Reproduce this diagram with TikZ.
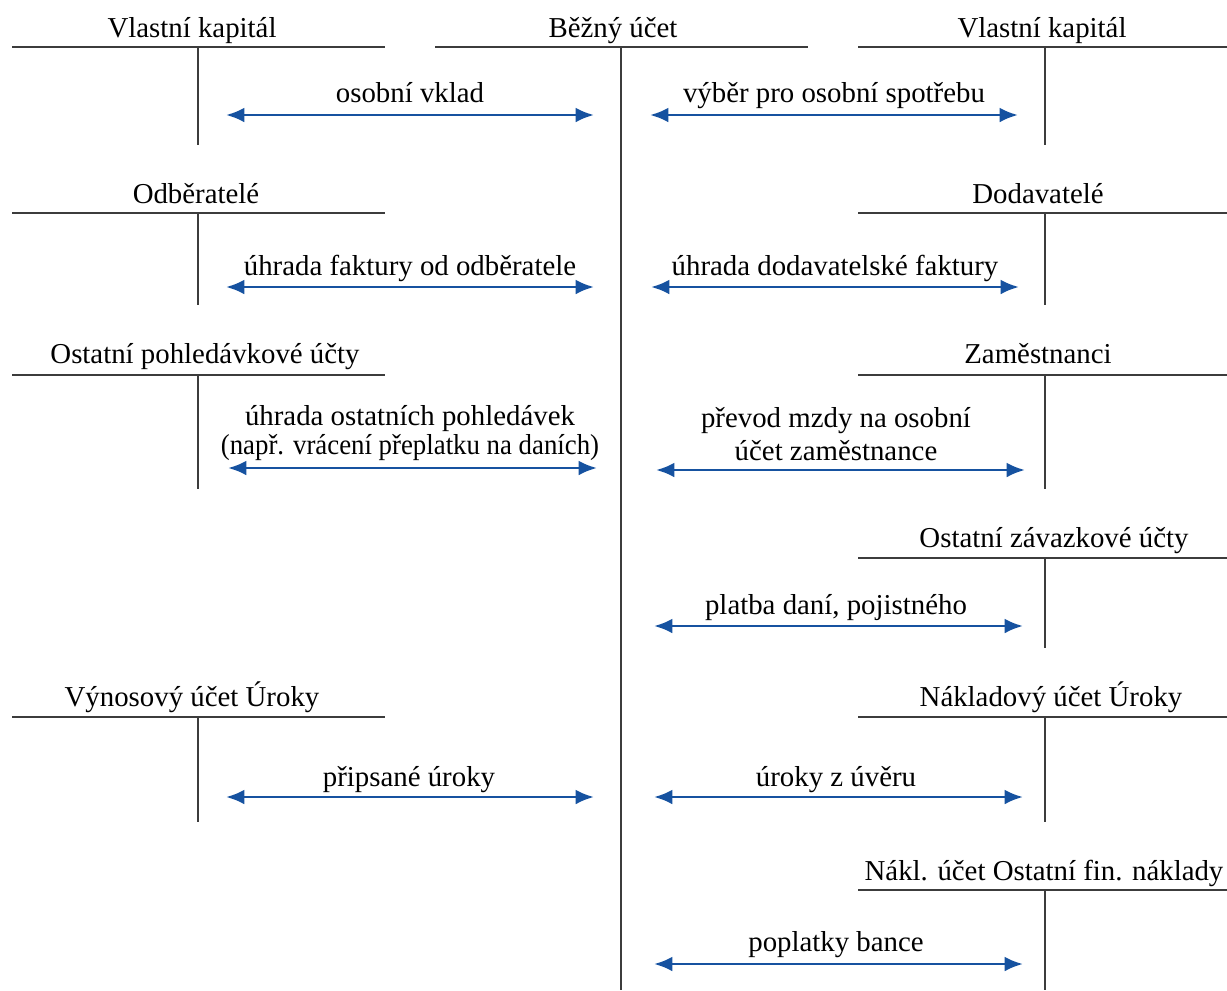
\documentclass[tikz,border=0pt]{standalone}
\usepackage{fontspec}
\setmainfont{Liberation Serif}
\usetikzlibrary{positioning,arrows.meta}
\definecolor{flowblue}{RGB}{22,82,160}
\definecolor{rulegray}{RGB}{60,60,60}
\tikzstyle{acctitle} = [anchor=base, inner sep=0pt, font=\fontsize{8.2}{10}\selectfont]
\tikzstyle{flowtext} = [anchor=base, inner sep=0pt, font=\fontsize{8.2}{10}\selectfont]
\tikzstyle{rule} = [draw=rulegray, line width=0.42pt]
\tikzstyle{flow} = [draw=flowblue, line width=0.8pt, {Latex[length=5.2pt,width=4.2pt]}-{Latex[length=5.2pt,width=4.2pt]}]

\begin{document}
\begin{tikzpicture}[x=0.01cm, y=-0.01cm]
		\useasboundingbox (0,0) rectangle (1227,990);
		% T-accounts
		\node (vkL) [acctitle] at (192,37) {Vlastní kapitál};
		\node (bu) [acctitle] at (613,37) {Běžný účet};
		\node (vkR) [acctitle] at (1042,37) {Vlastní kapitál};
		\draw [rule] (12,47) -- (385,47) (198,47) -- (198,145);
		\draw [rule] (435,47) -- (808,47) (621,47) -- (621,990);
		\draw [rule] (858,47) -- (1227,47) (1045,47) -- (1045,145);
		
		\node (odb) [acctitle] at (196,203) {Odběratelé};
		\node (dod) [acctitle] at (1038,203) {Dodavatelé};
		\draw [rule] (12,213) -- (385,213) (198,213) -- (198,305);
		\draw [rule] (858,213) -- (1227,213) (1045,213) -- (1045,305);
		
		\node (opu) [acctitle] at (205,363) {Ostatní pohledávkové účty};
		\node (zam) [acctitle] at (1038,363) {Zaměstnanci};
		\draw [rule] (12,375) -- (385,375) (198,375) -- (198,489);
		\draw [rule] (858,375) -- (1227,375) (1045,375) -- (1045,489);
		
		\node (ozu) [acctitle] at (1054,547) {Ostatní závazkové účty};
		\draw [rule] (858,558) -- (1227,558) (1045,558) -- (1045,648);
		
		\node (vyn) [acctitle] at (192,706) {Výnosový účet Úroky};
		\node (nak) [acctitle] at (1051,706) {Nákladový účet Úroky};
		\draw [rule] (12,717) -- (385,717) (198,717) -- (198,822);
		\draw [rule] (858,717) -- (1227,717) (1045,717) -- (1045,822);
		
		\node (ofn) [acctitle] at (1044,880) {Nákl. účet Ostatní fin. náklady};
		\draw [rule] (858,890) -- (1227,890) (1045,890) -- (1045,990);
		
		% flows
		\coordinate (vklL) at (226,115);
		\coordinate (vklR) at (594,115);
		\coordinate (vybL) at (650,115);
		\coordinate (vybR) at (1018,115);
		\draw [flow] (vklL) -- (vklR);
		\draw [flow] (vybL) -- (vybR);
		\node (vklT) [flowtext] at (410,102) {osobní vklad};
		\node (vybT) [flowtext] at (834,102) {výběr pro osobní spotřebu};
		
		\coordinate (ufoL) at (226,287);
		\coordinate (ufoR) at (594,287);
		\coordinate (udfL) at (651,287);
		\coordinate (udfR) at (1019,287);
		\draw [flow] (ufoL) -- (ufoR);
		\draw [flow] (udfL) -- (udfR);
		\node (ufoT) [flowtext] at (410,275) {úhrada faktury od odběratele};
		\node (udfT) [flowtext] at (835,275) {úhrada dodavatelské faktury};
		
		\coordinate (uopL) at (228,468);
		\coordinate (uopR) at (597,468);
		\coordinate (pmzL) at (656,470);
		\coordinate (pmzR) at (1025,470);
		\draw [flow] (uopL) -- (uopR);
		\draw [flow] (pmzL) -- (pmzR);
		\node (uopT) [flowtext] at (410,425) {úhrada ostatních pohledávek};
		\node (uopU) [flowtext] at (410,454) {\scalebox{0.93}[1]{(např. vrácení přeplatku na daních)}};
		\node (pmzT) [flowtext] at (836,427) {převod mzdy na osobní};
		\node (pmzU) [flowtext] at (836,460) {účet zaměstnance};
		
		\coordinate (pdpL) at (654,626);
		\coordinate (pdpR) at (1023,626);
		\draw [flow] (pdpL) -- (pdpR);
		\node (pdpT) [flowtext] at (836,614) {platba daní, pojistného};
		
		\coordinate (puL) at (226,797);
		\coordinate (puR) at (594,797);
		\coordinate (uzuL) at (654,797);
		\coordinate (uzuR) at (1023,797);
		\draw [flow] (puL) -- (puR);
		\draw [flow] (uzuL) -- (uzuR);
		\node (puT) [flowtext] at (409,786) {připsané úroky};
		\node (uzuT) [flowtext] at (836,786) {úroky z úvěru};
		
		\coordinate (pbL) at (654,964);
		\coordinate (pbR) at (1023,964);
		\draw [flow] (pbL) -- (pbR);
		\node (pbT) [flowtext] at (836,951) {poplatky bance};
	\end{tikzpicture}
\end{document}
